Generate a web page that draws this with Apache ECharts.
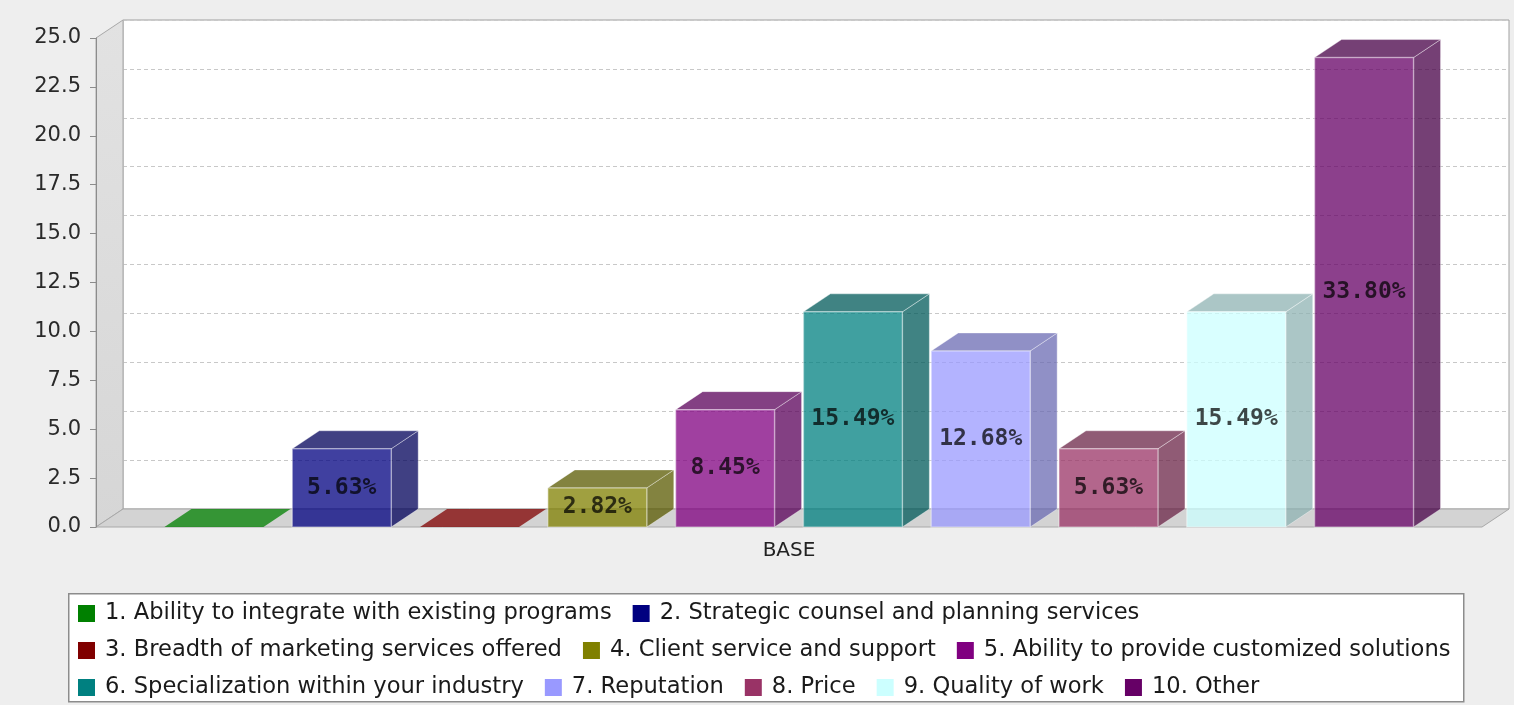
<!DOCTYPE html>
<html>
<head>
<meta charset="utf-8">
<script src="https://cdn.jsdelivr.net/npm/echarts/dist/echarts.min.js"></script>
<style>
  html, body { margin: 0; padding: 0; background: #eeeeee; }
  #chart { width: 1514px; height: 705px; }
</style>
</head>
<body>
<div id="chart"></div>
<script>
// ---- data ----
const categories = ['BASE'];
const seriesNames = [
  '1. Ability to integrate with existing programs',
  '2. Strategic counsel and planning services',
  '3. Breadth of marketing services offered',
  '4. Client service and support',
  '5. Ability to provide customized solutions',
  '6. Specialization within your industry',
  '7. Reputation',
  '8. Price',
  '9. Quality of work',
  '10. Other'
];
const seriesCounts = [0, 4, 0, 2, 6, 11, 9, 4, 11, 24];
const seriesColors = ['#008000', '#000080', '#800000', '#808000', '#800080',
                      '#008080', '#9999ff', '#993366', '#ccffff', '#660066'];
const yMin = 0, yMax = 25, yStep = 2.5;

// ---- 3D look ----
const DEPTH_X = 27, DEPTH_Y = 18;   // offset of the back plane
const BAR_W = 0.0714;               // bar width as a share of the category band
const BAR_STEP = 0.0922;            // distance between neighbouring bars
const FACE_ALPHA = 0.75;
const FONT = "'DejaVu Sans', sans-serif";

const total = seriesCounts.reduce((a, b) => a + b, 0);

function darker(hex, k) {
  const n = parseInt(hex.slice(1), 16);
  const r = Math.round(((n >> 16) & 255) * k);
  const g = Math.round(((n >> 8) & 255) * k);
  const b = Math.round((n & 255) * k);
  return 'rgb(' + r + ',' + g + ',' + b + ')';
}

function barRenderer(idx) {
  const color = seriesColors[idx];
  const shade = darker(color, 0.7);
  const count = seriesNames.length;
  return function (params, api) {
    const v = api.value(1);
    const base = api.coord([api.value(0), 0]);
    const top = api.coord([api.value(0), v]);
    const band = api.size([1, 0])[0];
    const w = band * BAR_W;
    const x = base[0] + (idx - (count - 1) / 2) * band * BAR_STEP - w / 2;
    const y0 = base[1], y1 = top[1];
    const children = [];
    const edge = 'rgba(255,255,255,0.5)';
    if (v > 0) {
      children.push({
        type: 'polygon',
        shape: { points: [[x + w, y1], [x + w + DEPTH_X, y1 - DEPTH_Y],
                          [x + w + DEPTH_X, y0 - DEPTH_Y], [x + w, y0]] },
        style: { fill: shade, opacity: FACE_ALPHA, stroke: edge, lineWidth: 1 }
      });
    }
    children.push({
      type: 'polygon',
      shape: { points: [[x, y1], [x + DEPTH_X, y1 - DEPTH_Y],
                        [x + w + DEPTH_X, y1 - DEPTH_Y], [x + w, y1]] },
      style: v > 0
        ? { fill: shade, opacity: FACE_ALPHA, stroke: edge, lineWidth: 1 }
        : { fill: color, opacity: FACE_ALPHA }
    });
    if (v > 0) {
      children.push({
        type: 'rect',
        shape: { x: x, y: y1, width: w, height: y0 - y1 },
        style: { fill: color, opacity: FACE_ALPHA, stroke: edge, lineWidth: 1.5 }
      });
      children.push({
        type: 'text',
        x: x + w / 2,
        y: (y0 + y1) / 2,
        style: {
          text: (v / total * 100).toFixed(2) + '%',
          fill: 'rgba(0,0,0,0.72)',
          font: "bold 23px 'DejaVu Sans Mono', monospace",
          align: 'center',
          verticalAlign: 'middle'
        }
      });
    }
    return { type: 'group', children: children };
  };
}

// left wall and floor of the plot box
function wallRenderer(params, api) {
  const base = api.coord([0, yMin]);
  const topPt = api.coord([0, yMax]);
  const band = api.size([1, 0])[0];
  const left = base[0] - band / 2, right = base[0] + band / 2;
  const y0 = base[1], yt = topPt[1];
  return {
    type: 'group',
    children: [
      {
        type: 'polygon',
        shape: { points: [[left, yt], [left + DEPTH_X, yt - DEPTH_Y],
                          [left + DEPTH_X, y0 - DEPTH_Y], [left, y0]] },
        style: {
          fill: new echarts.graphic.LinearGradient(0, 0, 0, 1, [
            { offset: 0, color: '#e2e2e2' }, { offset: 1, color: '#d6d6d6' }]),
          stroke: '#a8a8a8', lineWidth: 1
        }
      },
      {
        type: 'polygon',
        shape: { points: [[left, y0], [left + DEPTH_X, y0 - DEPTH_Y],
                          [right + DEPTH_X, y0 - DEPTH_Y], [right, y0]] },
        style: { fill: '#d3d3d3', stroke: '#a8a8a8', lineWidth: 1 }
      }
    ]
  };
}

const series = [{
  type: 'custom',
  name: 'walls',
  xAxisIndex: 0, yAxisIndex: 0,
  silent: true,
  z: 1,
  renderItem: wallRenderer,
  data: [[0, yMin]]
}];
seriesNames.forEach(function (name, i) {
  series.push({
    type: 'custom',
    name: name,
    xAxisIndex: 0, yAxisIndex: 0,
    z: 2,
    itemStyle: { color: seriesColors[i] },
    renderItem: barRenderer(i),
    data: [[0, seriesCounts[i]]]
  });
});

const legendCommon = {
  orient: 'horizontal',
  left: 78,
  padding: 0,
  itemWidth: 17,
  itemHeight: 17,
  itemGap: 21,
  icon: 'rect',
  selectedMode: false,
  textStyle: { fontFamily: FONT, fontSize: 22.6, color: '#1a1a1a', padding: [0, 0, 0, 5] }
};

const option = {
  backgroundColor: '#eeeeee',
  animation: false,
  textStyle: { fontFamily: FONT },
  grid: [
    { left: 96, right: 32, top: 38, bottom: 178 },
    { left: 96 + DEPTH_X, right: 32 - DEPTH_X, top: 38 - DEPTH_Y, bottom: 178 + DEPTH_Y,
      show: true, backgroundColor: '#ffffff', borderColor: '#a0a0a0', borderWidth: 1 }
  ],
  xAxis: [
    {
      type: 'category', gridIndex: 0, data: categories, z: 5,
      axisLine: { show: false },
      axisTick: { show: false },
      axisLabel: { margin: 14, fontSize: 20, color: '#222', fontFamily: FONT }
    },
    { type: 'category', gridIndex: 1, data: categories, show: false }
  ],
  yAxis: [
    {
      type: 'value', gridIndex: 0, min: yMin, max: yMax, interval: yStep, z: 5,
      axisLine: { show: true, lineStyle: { color: '#8c8c8c', width: 1 } },
      axisTick: { show: true, length: 6, lineStyle: { color: '#8c8c8c' } },
      axisLabel: { margin: 15, fontSize: 21, color: '#2a2a2a', fontFamily: FONT,
                   formatter: function (v) { return v.toFixed(1); } },
      splitLine: { show: false }
    },
    {
      type: 'value', gridIndex: 1, min: yMin, max: yMax, interval: yStep,
      axisLine: { show: false }, axisTick: { show: false }, axisLabel: { show: false },
      splitLine: { show: true, lineStyle: { color: '#c8c8c8', width: 1, type: [4, 3] } }
    }
  ],
  legend: [
    Object.assign({}, legendCommon, { top: 602, data: seriesNames.slice(0, 2) }),
    Object.assign({}, legendCommon, { top: 639, data: seriesNames.slice(2, 5) }),
    Object.assign({}, legendCommon, { top: 676, data: seriesNames.slice(5) })
  ],
  graphic: [{
    type: 'rect',
    left: 68, top: 593,
    z: 0,
    shape: { width: 1395, height: 108 },
    style: { fill: '#ffffff', stroke: '#8c8c8c', lineWidth: 1.5 }
  }],
  series: series
};

const chart = echarts.init(document.getElementById('chart'), null, { renderer: 'canvas' });
chart.setOption(option);
</script>
</body>
</html>
